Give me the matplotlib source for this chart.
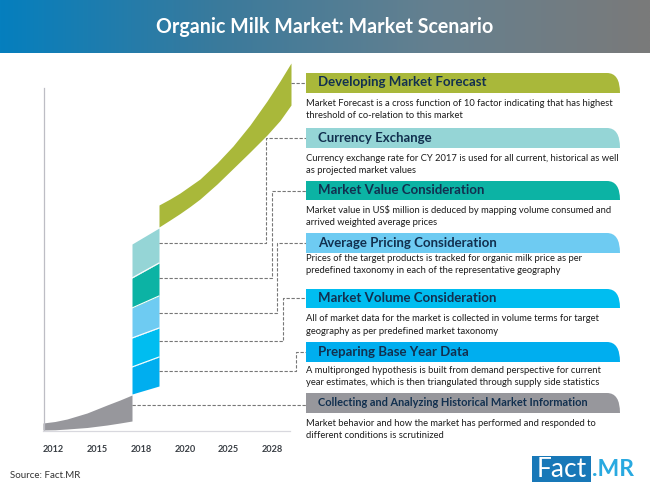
import matplotlib
matplotlib.use('Agg')
import matplotlib.pyplot as plt
import numpy as np
from matplotlib.colors import LinearSegmentedColormap
from matplotlib.patches import PathPatch, Rectangle
from matplotlib.path import Path

title = 'Organic Milk Market: Market Scenario'
source = 'Source: Fact.MR'
years = ['2012', '2015', '2018', '2020', '2025', '2028']

headers = ['Developing Market Forecast', 'Currency Exchange', 'Market Value Consideration',
           'Average Pricing Consideration', 'Market Volume Consideration',
           'Preparing Base Year Data', 'Collecting and Analyzing Historical Market Information']
bodies = [
    ['Market Forecast is a cross function of 10 factor indicating that has highest',
     'threshold of co-relation to this market'],
    ['Currency exchange rate for CY 2017 is used for all current, historical as well',
     'as projected market values'],
    ['Market value in US$ million is deduced by mapping volume consumed and',
     'arrived weighted average prices'],
    ['Prices of the target products is tracked for organic milk price as per',
     'predefined taxonomy in each of the representative geography'],
    ['All of market data for the market is collected in volume terms for target',
     'geography as per predefined market taxonomy'],
    ['A multipronged hypothesis is built from demand perspective for current',
     'year estimates, which is then triangulated through supply side statistics'],
    ['Market behavior and how the market has performed and responded to',
     'different conditions is scrutinized'],
]
colors = ['#a9b83a', '#95d5d6', '#0cb3a4', '#6ecbf2', '#00bdf0', '#00aeef', '#97979c']

# curve bands in pixels from the top left corner
hist_x = [43, 55, 67, 87, 107, 120, 132]
hist_top = [423, 421.5, 419, 413, 405, 400, 395]
hist_bottom = [430, 429.8, 429, 427.5, 425, 423, 421]

base_x = [132, 159]
base_edges = [[394, 386], [367, 357], [338, 328], [308, 296], [278, 263], [244, 228]]
base_colors = ['#00aeef', '#00bdf0', '#6ecbf2', '#0cb3a4', '#95d5d6']

fore_x = [159, 170, 180, 190, 200, 217, 233, 250, 267, 280, 291]
fore_top = [205, 199, 193, 186, 179, 163, 146, 125, 101, 81, 63]
fore_bottom = [227, 220, 213.5, 206.5, 199, 184, 168.5, 152, 135, 120.5, 105]

bar_tops = [73, 128, 181, 233, 289, 342, 393]
bar_bottoms = [93, 148, 200, 253, 308, 362, 413]
body_y = [[103, 115], [158, 170], [210, 222], [258, 270], [318, 331], [370, 382], [423, 435]]
tick_x = [53, 97, 141, 185, 228, 272]

# leader lines as (x, y) corners
leaders = [
    [(291, 83), (306, 83)],
    [(159, 243), (266, 243), (266, 138), (306, 138)],
    [(159, 278), (272, 278), (272, 191), (306, 191)],
    [(159, 313), (277, 313), (277, 243), (306, 243)],
    [(159, 341), (283, 341), (283, 298), (306, 298)],
    [(159, 371), (296, 371), (296, 352), (306, 352)],
    [(132, 405), (306, 405)],
]

plt.rcParams['font.family'] = ['Lato', 'DejaVu Sans']

fig = plt.figure(figsize=(6.5, 4.9), dpi=100)
ax = fig.add_axes([0, 0, 1, 1])
ax.set_xlim(0, 650)
ax.set_ylim(490, 0)
ax.axis('off')

# header band
cmap = LinearSegmentedColormap.from_list('band', ['#057fbe', '#3a7a9c', '#65808f', '#7a7a7a'])
ax.imshow(np.linspace(0, 1, 256).reshape(1, -1), cmap=cmap, extent=(0, 650, 53, 0), aspect='auto')
ax.set_xlim(0, 650)
ax.set_ylim(490, 0)
ax.text(325, 27, title, color='white', fontsize=14.1, fontweight='bold', ha='center', va='center')

# axes lines
ax.plot([43.5, 43.5], [88, 430], color='#bdbdc4', lw=0.9)
ax.plot([43, 290], [430.5, 430.5], color='#d8d8de', lw=0.9)

# bands
ax.fill_between(hist_x, hist_top, hist_bottom, color=colors[6], lw=0)
for i, c in enumerate(base_colors):
    ax.fill_between(base_x, base_edges[i + 1], base_edges[i], color=c, lw=0)
    if i > 0:
        ax.plot(base_x, base_edges[i], color='white', lw=0.8)
ax.fill_between(fore_x, fore_top, fore_bottom, color=colors[0], lw=0)

for pts in leaders:
    xs, ys = zip(*pts)
    ax.plot(xs, ys, color='#777777', lw=0.8, ls=(0, (3, 1.5)))

# header bars with the top right corner rounded
r = 13
for name, lines, c, top, bot, ys in zip(headers, bodies, colors, bar_tops, bar_bottoms, body_y):
    verts = [(306, bot), (306, top), (620 - r, top), (620, top), (620, bot), (306, bot)]
    codes = [Path.MOVETO, Path.LINETO, Path.LINETO, Path.CURVE3, Path.CURVE3, Path.CLOSEPOLY]
    ax.add_patch(PathPatch(Path(verts, codes), facecolor=c, edgecolor='none', zorder=3))
    size = 7.9 if name.startswith('Collecting') else 9.5
    ax.text(318, (top + bot) / 2 - 0.5, name, color='#12304f', fontsize=size, fontweight='bold',
            va='center', zorder=4)
    for y, line in zip(ys, lines):
        ax.text(306, y, line, color='#1c1c1c', fontsize=6.75, va='center', zorder=4)

for x, y in zip(tick_x, years):
    ax.text(x, 449, y, color='#3a3f45', fontsize=6.6, fontweight='bold', ha='center', va='center')

ax.text(10, 475, source, color='#333333', fontsize=7.0, va='center')

# logo
ax.add_patch(Rectangle((532, 456), 59, 26, facecolor='#1878b8', edgecolor='none'))
ax.text(561.5, 469, 'Fact', color='white', fontsize=19, ha='center', va='center')
ax.text(592, 469, '.MR', color='#29a9e0', fontsize=16.5, fontweight='bold', ha='left', va='center')

fig.savefig('out.png', dpi=100)
